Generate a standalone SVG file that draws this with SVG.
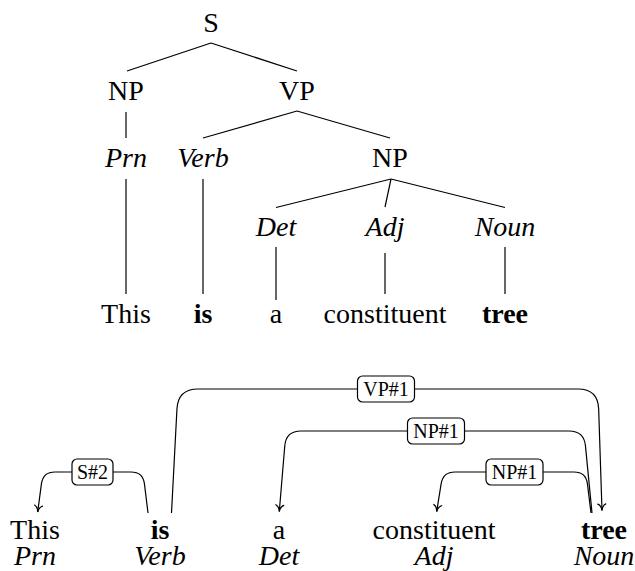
<svg xmlns="http://www.w3.org/2000/svg" width="635" height="571" viewBox="0 0 635 571">
<style>
text{font-family:'Liberation Serif','Times New Roman',serif;font-size:28px;fill:#000;text-anchor:middle}
.it{font-style:italic}
.b{font-weight:bold}
.lbl{font-size:20px}
.edge{fill:none;stroke:#000;stroke-width:1.2}
.box{fill:#fff;stroke:#000;stroke-width:1.2}
</style>
<defs>
<marker id="arr" viewBox="-8 -6 10 12" markerWidth="10" markerHeight="12" refX="0" refY="0" orient="auto" markerUnits="userSpaceOnUse">
<path d="M-6.5,-4 C-5.5,-1.5 -2,-0.3 0,0 C-2,0.3 -5.5,1.5 -6.5,4" fill="none" stroke="#000" stroke-width="1.2" stroke-linecap="round"/>
</marker>
</defs>

<g id="tree-edges">
<path class="edge" d="M211,43 L127,71 M211,43 L297,71"/>
<path class="edge" d="M126,112 L126,138"/>
<path class="edge" d="M297,111 L203,138 M297,111 L390,138"/>
<path class="edge" d="M126,179 L126,294"/>
<path class="edge" d="M203,179 L203,294"/>
<path class="edge" d="M391,179 L276,207.5 M391,179 L385,207 M391,179 L505,207.5"/>
<path class="edge" d="M276,247 L276,300"/>
<path class="edge" d="M385,253 L385,294"/>
<path class="edge" d="M505,247 L505,294"/>
</g>

<g id="t-S"><text x="211" y="32">S</text></g>
<g id="t-NP1"><text x="126" y="100">NP</text></g>
<g id="t-VP"><text x="297" y="100">VP</text></g>
<g id="t-Prn"><text class="it" x="126" y="167">Prn</text></g>
<g id="t-Verb"><text class="it" x="203" y="167">Verb</text></g>
<g id="t-NP2"><text x="390" y="167">NP</text></g>
<g id="t-Det"><text class="it" x="276" y="236">Det</text></g>
<g id="t-Adj"><text class="it" x="385" y="236">Adj</text></g>
<g id="t-Noun"><text class="it" x="505" y="236">Noun</text></g>
<g id="t-This"><text x="126" y="323">This</text></g>
<g id="t-is"><text class="b" x="203" y="323">is</text></g>
<g id="t-a"><text x="276" y="323">a</text></g>
<g id="t-constituent"><text x="385" y="323">constituent</text></g>
<g id="t-tree"><text class="b" x="505" y="323">tree</text></g>

<g id="dep-edges">
<path class="edge" marker-end="url(#arr)" d="M171.5,513 L176.95,408.96 Q178,389 198,389 L578,389 Q598,389 598.66,409 L602,510.5"/>
<path class="edge" marker-end="url(#arr)" d="M592,513 L585.46,445.93 Q584,431 569,431 L301,431 Q286,431 284.76,445.94 L279.3,511.5"/>
<path class="edge" marker-end="url(#arr)" d="M591,513 L587.45,483.9 Q586,472 574,472 L455,472 Q443,472 441.11,483.85 L436.7,511.5"/>
<path class="edge" marker-end="url(#arr)" d="M148,513 L144.45,483.9 Q143,472 131,472 L55,472 Q43,472 41.42,483.9 L37.7,512"/>
<g id="lbl-VP1"><rect class="box" x="357.5" y="376" width="57" height="26" rx="5"/><text class="lbl" x="386" y="396">VP#1</text></g>
<g id="lbl-NP1a"><rect class="box" x="407.5" y="418" width="57" height="26" rx="5"/><text class="lbl" x="436" y="438">NP#1</text></g>
<g id="lbl-NP1b"><rect class="box" x="486" y="459" width="57" height="26" rx="5"/><text class="lbl" x="514.5" y="479">NP#1</text></g>
<g id="lbl-S2"><rect class="box" x="72" y="459" width="41" height="26" rx="5"/><text class="lbl" x="92.5" y="479">S#2</text></g>
</g>

<g id="w-This"><text x="35" y="539">This</text><text class="it" x="35" y="565">Prn</text></g>
<g id="w-is"><text class="b" x="160" y="539">is</text><text class="it" x="160" y="565">Verb</text></g>
<g id="w-a"><text x="279" y="539">a</text><text class="it" x="279" y="565">Det</text></g>
<g id="w-constituent"><text x="434" y="539">constituent</text><text class="it" x="434" y="565">Adj</text></g>
<g id="w-tree"><text class="b" x="604" y="539">tree</text><text class="it" x="604" y="565">Noun</text></g>
</svg>
